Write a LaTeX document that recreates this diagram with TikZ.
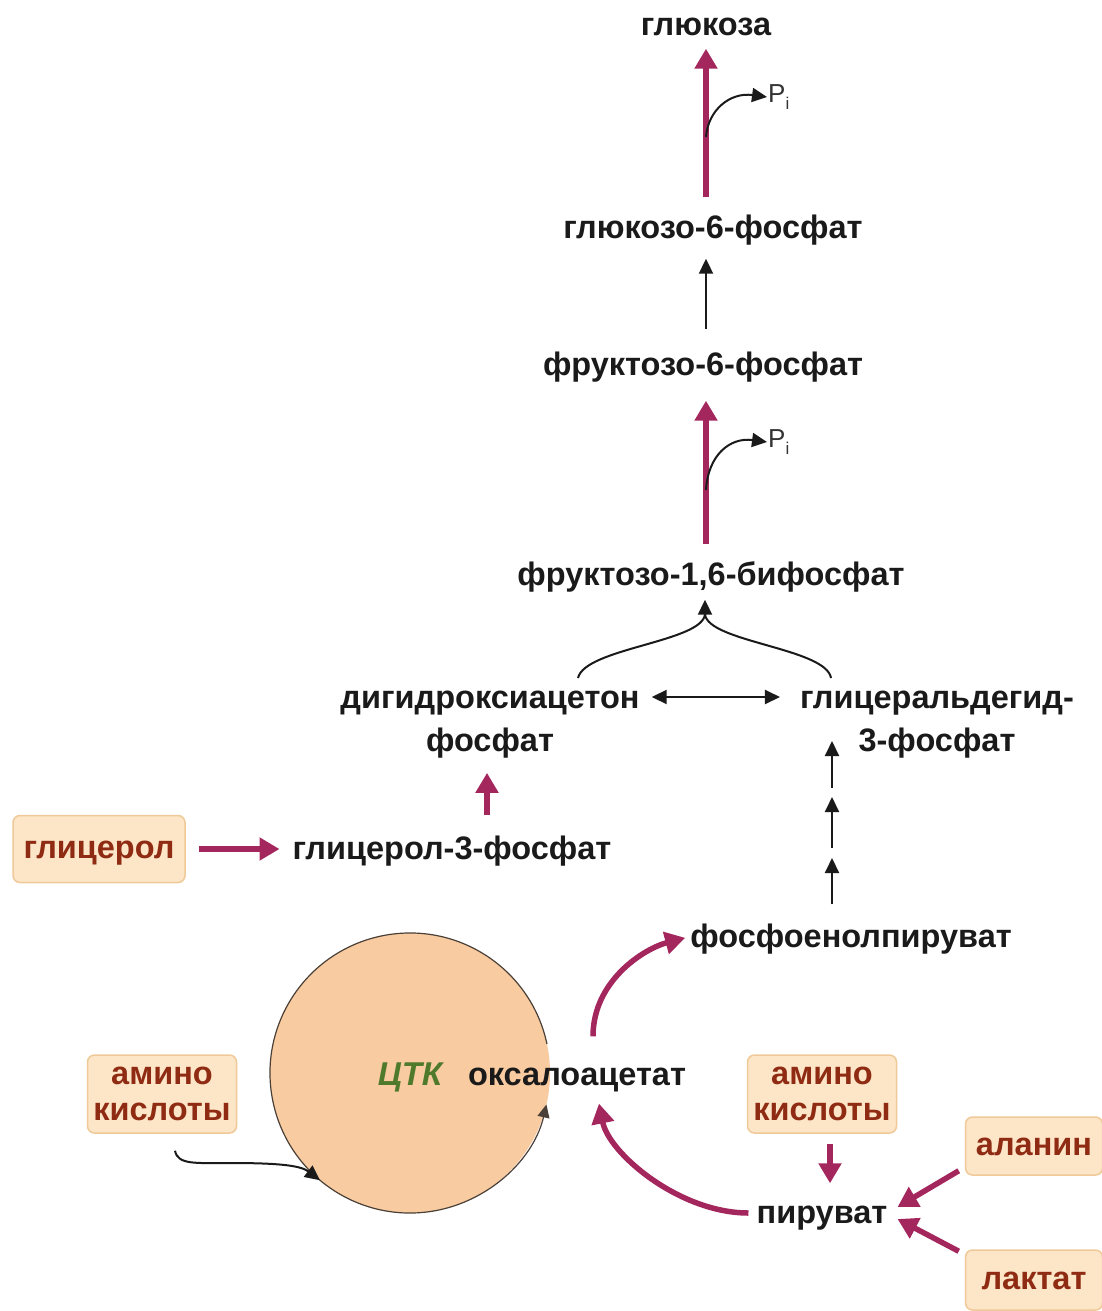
\documentclass[tikz,border=0pt]{standalone}
\usepackage{fontspec}
\setmainfont{Liberation Sans}
\usetikzlibrary{arrows.meta,shapes.geometric}
\definecolor{pathred}{HTML}{A3275C}
\definecolor{srctext}{HTML}{8E2B12}
\definecolor{srcfill}{HTML}{FDE5C8}
\definecolor{srcedge}{HTML}{F0C998}
\definecolor{ringfill}{HTML}{F8CBA0}
\definecolor{ringedge}{HTML}{4A4038}
\definecolor{tcagreen}{HTML}{4F7A2C}
\definecolor{ink}{HTML}{1A1A1A}
\definecolor{pgray}{HTML}{333333}
\begin{document}
\begin{tikzpicture}[x=1pt,y=-1pt,
  met/.style={font=\bfseries\fontsize{32.5}{36}\selectfont, text=ink, inner sep=2pt, text height=27pt, text depth=6pt},
  mettwo/.style={font=\bfseries\fontsize{32.5}{43}\selectfont, text=ink, inner sep=2pt, align=center},
  srcbox/.style={font=\bfseries\fontsize{32.5}{36}\selectfont, text=srctext, fill=srcfill, draw=srcedge, line width=1.5pt, rounded corners=7pt, align=center, inner sep=0pt},
  srcone/.style={srcbox, text height=24pt, text depth=6pt},
  redarrow/.style={draw=pathred, line width=5.5pt, -{Triangle[length=20pt,width=22pt]}},
  blkarrow/.style={draw=ink, line width=2pt, -{Triangle[length=15pt,width=14pt]}},
  blkline/.style={draw=ink, line width=2pt},
  pilabel/.style={font=\fontsize{26}{28}\selectfont, text=pgray, inner sep=1pt, anchor=west}
]
\useasboundingbox (0,0) rectangle (1102,1311);

% --- metabolites of the main pathway
\node[met] (glc) at (706,25) {глюкоза};
\node[met] (g6p) at (713,228) {глюкозо-6-фосфат};
\node[met] (f6p) at (703,365) {фруктозо-6-фосфат};
\node[met] (f16) at (711,575) {фруктозо-1,6-бифосфат};
\node[mettwo] (dhap) at (490,725) {дигидроксиацетон\\фосфат};
\node[mettwo] (gap) at (937,725) {глицеральдегид-\\3-фосфат};
\node[met] (g3p) at (452,849) {глицерол-3-фосфат};
\node[met] (pep) at (851,937) {фосфоенолпируват};
\node[met] (pyr) at (822,1213) {пируват};

% --- citric acid cycle
\node[circle, fill=ringfill, minimum size=280pt, inner sep=0pt, outer sep=0pt] (ring) at (410,1073) {};
\draw[draw=ringedge, line width=1.2pt, -{Triangle[length=13pt,width=12pt]}]
  (ring.center) ++(-12:140) arc[start angle=-12, end angle=-347, radius=140];
\node[met, font=\bfseries\itshape\fontsize{33}{36}\selectfont, text=tcagreen] (tca) at (410,1075) {ЦТК};
\node[met] (oaa) at (577,1075) {оксалоацетат};

% --- substrate boxes
\node[srcone, minimum width=172pt, minimum height=67pt] (gly) at (99,849) {глицерол};
\node[srcbox, minimum width=149pt, minimum height=78pt] (aaL) at (162,1094) {амино\\кислоты};
\node[srcbox, minimum width=149pt, minimum height=78pt] (aaR) at (822,1094) {амино\\кислоты};
\node[srcone, minimum width=137pt, minimum height=58pt] (ala) at (1034,1146) {аланин};
\node[srcone, minimum width=137pt, minimum height=60pt] (lac) at (1034,1280) {лактат};

% --- phosphate labels
\node[pilabel] (pi1) at (767,97) {P\raisebox{-0.45ex}{\fontsize{17}{17}\selectfont i}};
\node[pilabel] (pi2) at (767,442) {P\raisebox{-0.45ex}{\fontsize{17}{17}\selectfont i}};

% --- upper pathway arrows
\draw[redarrow, shorten <=12pt, shorten >=5pt] ([xshift=-7pt]g6p.north) -- (glc.south);
\coordinate (br1) at (706,137);
\draw[blkarrow] (br1) .. controls (708,110) and (730,92) .. (pi1.west);
\draw[blkarrow, shorten <=17pt, shorten >=12pt] ([xshift=3pt]f6p.north) -- ([xshift=-7pt]g6p.south);
\draw[redarrow, shorten <=12pt, shorten >=17pt] ([xshift=-5pt]f16.north) -- ([xshift=3pt]f6p.south);
\coordinate (br2) at (706,490);
\draw[blkarrow] (br2) .. controls (708,455) and (730,437) .. (pi2.west);

% --- triose phosphates joining
\coordinate (bl) at (578,678);
\coordinate (brr) at (831,678);
\coordinate (jn) at (705,614);
\draw[blkline] (bl) .. controls (585,648) and (703,642) .. (jn);
\draw[blkline] (brr) .. controls (826,648) and (707,642) .. (jn);
\draw[blkarrow, shorten >=6pt] (jn) -- ([xshift=-6pt]f16.south);
\draw[blkline, {Triangle[length=15pt,width=14pt]}-{Triangle[length=15pt,width=14pt]}, shorten <=10pt, shorten >=18pt]
  ([yshift=28pt]dhap.east) -- ([yshift=28pt]gap.west);

% --- glycerol branch
\draw[redarrow, shorten <=13pt, shorten >=11pt] (gly.east) -- (g3p.west);
\draw[redarrow, shorten <=15pt, shorten >=12pt] ([xshift=35pt]g3p.north) -- ([xshift=-3pt]dhap.south);

% --- phosphoenolpyruvate to glyceraldehyde-3-phosphate
\coordinate (k1) at (832,858);
\coordinate (k2) at (832,848);
\coordinate (k3) at (832,797);
\coordinate (k4) at (832,788);
\coordinate (k5) at (832,741);
\draw[blkarrow, shorten <=14pt] (pep.north -| k1) -- (k1);
\draw[blkarrow] (k2) -- (k3);
\draw[blkarrow] (k4) -- (k5);

% --- oxaloacetate / pyruvate
\draw[redarrow, shorten >=3pt] ([xshift=16pt,yshift=20pt]oaa.north) .. controls +(0,-55) and +(-45,12) .. (pep.west);
\draw[redarrow, shorten <=6pt, shorten >=10pt] (pyr.west) .. controls +(-75,0) and +(12,60) .. ([xshift=20pt]oaa.south);
\draw[redarrow, shorten <=10pt, shorten >=11pt] ([xshift=8pt]aaR.south) -- ([xshift=8pt]pyr.north);
\draw[redarrow] ([shift={(-6pt,5pt)}]ala.south west) -- ([shift={(8pt,6pt)}]pyr.east);
\draw[redarrow] ([shift={(-6pt,-2pt)}]lac.north west) -- ([shift={(8pt,-6pt)}]pyr.east);
\draw[blkarrow] ([xshift=13pt,yshift=-17pt]aaL.south) .. controls (178,1165) and (195,1163) .. (230,1163)
  .. controls (275,1163) and (300,1165) .. (ring.230);
\end{tikzpicture}
\end{document}
